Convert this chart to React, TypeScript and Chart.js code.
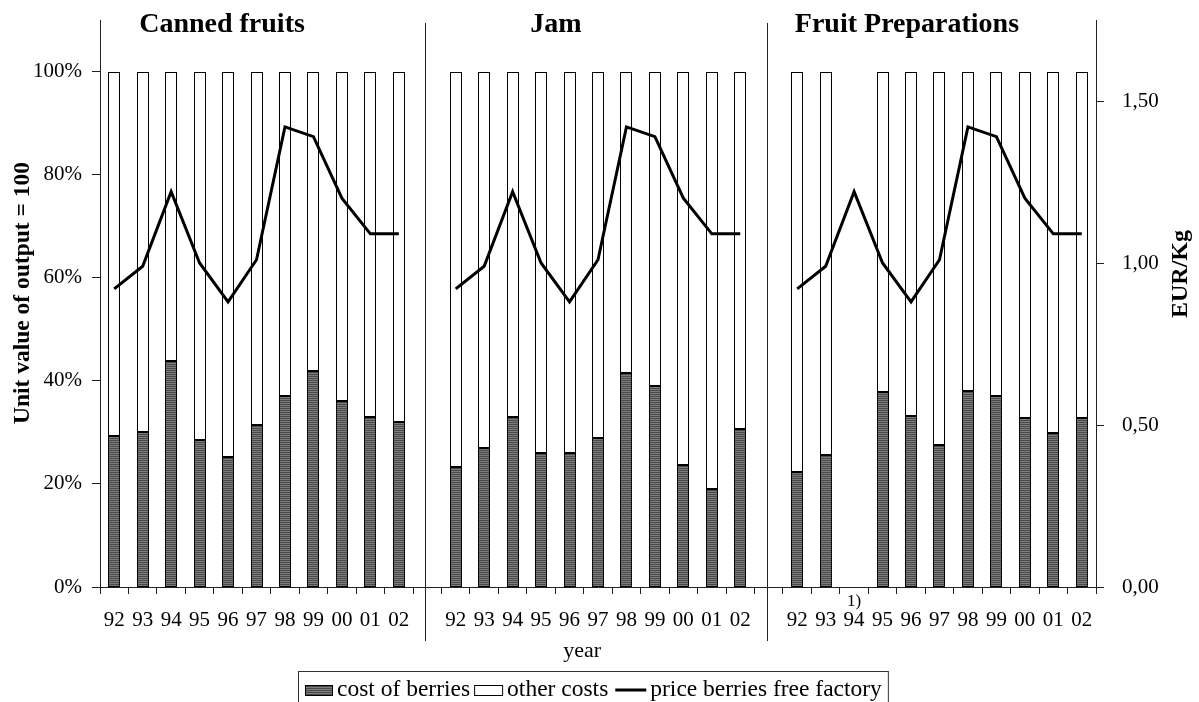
import React, { useEffect, useRef } from 'react';
import { Chart, registerables } from 'chart.js';

Chart.register(...registerables);

// ---------- data ----------
const years = ['92', '93', '94', '95', '96', '97', '98', '99', '00', '01', '02'];
const panelTitles = ['Canned fruits', 'Jam', 'Fruit Preparations'];
// share of cost of berries in unit value of output (%)
const cannedBerryCost: (number | null)[] = [29.3, 30.1, 43.8, 28.6, 25.3, 31.4, 37.1, 42.0, 36.0, 33.0, 32.0];
const jamBerryCost: (number | null)[] = [23.3, 26.9, 33.0, 26.0, 26.0, 28.9, 41.5, 39.0, 23.6, 19.0, 30.6];
const prepBerryCost: (number | null)[] = [22.3, 25.6, null, 37.8, 33.1, 27.5, 38.0, 37.0, 32.8, 29.8, 32.8];
// price berries free factory (EUR/Kg)
const priceBerries: (number | null)[] = [0.92, 0.99, 1.22, 1.0, 0.88, 1.01, 1.42, 1.39, 1.2, 1.09, 1.09];
const leftTicks = [0, 20, 40, 60, 80, 100];
const rightTicks = [0, 0.5, 1.0, 1.5];
const footnoteLabel = '1)';

const FONT = "'Liberation Serif', 'Times New Roman', serif";

const labels = [...years, '', ...years, '', ...years];
const costData = [...cannedBerryCost, null, ...jamBerryCost, null, ...prepBerryCost];
const otherData = costData.map((v) => (v == null ? null : 100 - v));
const priceData = [...priceBerries, null, ...priceBerries, null, ...priceBerries];

function makePattern(): CanvasPattern | string {
  const c = document.createElement('canvas');
  c.width = 4;
  c.height = 2;
  const g = c.getContext('2d');
  if (!g) return '#666';
  g.fillStyle = '#7c7c7c';
  g.fillRect(0, 0, 4, 2);
  g.fillStyle = '#4a4a4a';
  g.fillRect(0, 0, 4, 1);
  return g.createPattern(c, 'repeat') || '#666';
}

export default function App() {
  const ref = useRef<HTMLCanvasElement | null>(null);

  useEffect(() => {
    document.body.style.margin = '0';
    const canvas = ref.current;
    if (!canvas) return;
    const pattern = makePattern();

    const snap = {
      id: 'snap',
      beforeDatasetsDraw(chart: any) {
        chart.data.datasets.forEach((_d: any, i: number) => {
          const meta = chart.getDatasetMeta(i);
          if (meta.type !== 'bar') return;
          meta.data.forEach((el: any) => {
            el.x = Math.round(el.x);
            el.width = 12;
            el.y = Math.round(el.y);
            el.base = Math.round(el.base);
          });
        });
      },
    };

    const decor = {
      id: 'decor',
      afterDraw(chart: any) {
        const ctx = chart.ctx as CanvasRenderingContext2D;
        const xs = chart.scales.x;
        const area = chart.chartArea;
        ctx.save();
        // panel separators
        ctx.strokeStyle = '#222';
        ctx.lineWidth = 1;
        [11, 23].forEach((i) => {
          const px = Math.round(xs.getPixelForValue(i)) - 1.5;
          ctx.beginPath();
          ctx.moveTo(px, area.top + 3);
          ctx.lineTo(px, area.bottom + 54);
          ctx.stroke();
        });
        // panel titles
        ctx.fillStyle = '#000';
        ctx.font = `bold 28px ${FONT}`;
        ctx.textAlign = 'center';
        ctx.textBaseline = 'alphabetic';
        const fr = [0.1225, 0.4578, 0.8102];
        panelTitles.forEach((t, i) => {
          ctx.fillText(t, area.left + fr[i] * (area.right - area.left), 32);
        });
        // footnote
        ctx.font = `17px ${FONT}`;
        ctx.fillText(footnoteLabel, xs.getPixelForValue(26), area.bottom + 19);
        // x title
        ctx.font = `22px ${FONT}`;
        ctx.fillText('year', area.left + 0.484 * (area.right - area.left), area.bottom + 70);
        // y titles
        ctx.font = `bold 23.5px ${FONT}`;
        ctx.textBaseline = 'middle';
        ctx.save();
        ctx.translate(23, 293);
        ctx.rotate(-Math.PI / 2);
        ctx.fillText('Unit value of output = 100', 0, 0);
        ctx.restore();
        ctx.font = `bold 24px ${FONT}`;
        ctx.save();
        ctx.translate(1181, 274);
        ctx.rotate(-Math.PI / 2);
        ctx.fillText('EUR/Kg', 0, 0);
        ctx.restore();
        // legend
        const ly = 690;
        ctx.font = `23.5px ${FONT}`;
        ctx.textAlign = 'left';
        ctx.textBaseline = 'middle';
        let x = 305;
        const ds = chart.data.datasets;
        // cost of berries
        ctx.fillStyle = pattern as any;
        ctx.fillRect(x, ly - 5, 27, 10);
        ctx.strokeStyle = '#000';
        ctx.strokeRect(x + 0.5, ly - 5 + 0.5, 27, 10);
        x += 32;
        ctx.fillStyle = '#000';
        ctx.fillText(ds[1].label, x, ly);
        x += ctx.measureText(ds[1].label).width + 4;
        // other costs
        ctx.fillStyle = '#fff';
        ctx.fillRect(x, ly - 5, 28, 10);
        ctx.strokeRect(x + 0.5, ly - 5 + 0.5, 28, 10);
        x += 33;
        ctx.fillStyle = '#000';
        ctx.fillText(ds[2].label, x, ly);
        x += ctx.measureText(ds[2].label).width + 7;
        // price line
        ctx.lineWidth = 3;
        ctx.beginPath();
        ctx.moveTo(x, ly);
        ctx.lineTo(x + 31, ly);
        ctx.stroke();
        x += 35;
        ctx.fillText(ds[0].label, x, ly);
        x += ctx.measureText(ds[0].label).width + 6;
        ctx.lineWidth = 1;
        ctx.strokeStyle = '#333';
        ctx.strokeRect(298.5, 671.5, x - 298, 40);
        ctx.restore();
      },
    };

    const chart = new Chart(canvas, {
      type: 'bar',
      data: {
        labels,
        datasets: [
          {
            type: 'line',
            label: 'price berries free factory',
            data: priceData,
            yAxisID: 'y1',
            borderColor: '#000',
            backgroundColor: '#000',
            borderWidth: 3,
            pointRadius: 0,
            tension: 0,
            spanGaps: false,
            order: 0,
          } as any,
          {
            label: 'cost of berries',
            data: costData,
            backgroundColor: pattern as any,
            borderColor: '#000',
            borderWidth: 1,
            borderSkipped: false,
            stack: 's',
            yAxisID: 'y',
            order: 1,
          },
          {
            label: 'other costs',
            data: otherData,
            backgroundColor: '#fff',
            borderColor: '#000',
            borderWidth: 1,
            borderSkipped: false,
            stack: 's',
            yAxisID: 'y',
            order: 1,
          },
        ],
      },
      options: {
        animation: false,
        responsive: false,
        devicePixelRatio: 1,
        layout: { padding: { top: 20, left: 0, right: 0, bottom: 0 } },
        plugins: { legend: { display: false }, tooltip: { enabled: false } },
        datasets: { bar: { categoryPercentage: 1, barPercentage: 0.42 } },
        scales: {
          x: {
            stacked: true,
            grid: { display: true, offset: true, drawOnChartArea: false, drawTicks: true, tickLength: 7, color: '#222' },
            border: { display: true, color: '#222', width: 1 },
            ticks: { autoSkip: false, maxRotation: 0, minRotation: 0, padding: 14, color: '#000', font: { family: FONT, size: 21 } },
            afterFit: (s: any) => { s.height = 115; s.paddingLeft = 0; s.paddingRight = 0; },
          },
          y: {
            position: 'left',
            stacked: true,
            min: 0,
            max: 110,
            afterBuildTicks: (s: any) => { s.ticks = leftTicks.map((v) => ({ value: v })); },
            ticks: { padding: 10, color: '#000', font: { family: FONT, size: 21 }, callback: (v: any) => `${v}%` },
            grid: { drawOnChartArea: false, tickLength: 8, color: '#222' },
            border: { display: true, color: '#222', width: 1 },
            afterFit: (s: any) => { s.width = 100; s.paddingTop = 0; s.paddingBottom = 0; },
          },
          y1: {
            position: 'right',
            stacked: false,
            min: 0,
            max: 1.75,
            afterBuildTicks: (s: any) => { s.ticks = rightTicks.map((v) => ({ value: v })); },
            ticks: { padding: 18, color: '#000', font: { family: FONT, size: 21 }, callback: (v: any) => Number(v).toFixed(2).replace('.', ',') },
            grid: { drawOnChartArea: false, tickLength: 8, color: '#222' },
            border: { display: true, color: '#222', width: 1 },
            afterFit: (s: any) => { s.width = 103; s.paddingTop = 0; s.paddingBottom = 0; },
          },
        },
      } as any,
      plugins: [snap, decor],
    });
    return () => chart.destroy();
  }, []);

  return (
    <div style={{ width: 1199, height: 702, position: 'relative', background: '#fff' }}>
      <canvas ref={ref} width={1199} height={702} style={{ display: 'block', width: 1199, height: 702 }} />
    </div>
  );
}
